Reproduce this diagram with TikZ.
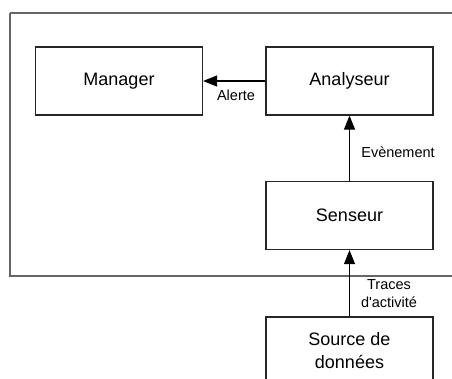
\documentclass[tikz,border=0pt]{standalone}
\usepackage{fontspec}
\setmainfont{Liberation Sans}
\usetikzlibrary{arrows.meta}
\begin{document}
\begin{tikzpicture}[x=1pt,y=-1pt,
  block/.style={draw=black!85, line width=1.2pt, minimum width=167pt, minimum height=68pt,
    inner sep=0pt, align=center, font=\fontsize{18}{23}\selectfont},
  flow/.style={line width=1.2pt, -{Triangle[length=14pt,width=11pt]}},
  tag/.style={inner sep=0pt, align=center, font=\fontsize{14.5}{18}\selectfont},
  frame/.style={draw=black!60, line width=1.2pt, dash pattern=on 0.35pt off 0.35pt}]
  \useasboundingbox (0,0) rectangle (452,378);
  \clip (0,0) rectangle (452,378);
  % system boundary
  \draw[frame] (10,13) rectangle (470,276);
  % components
  \node[block] (manager) at (119,81) {Manager};
  \node[block] (analyseur) at (349.5,81) {Analyseur};
  \node[block] (senseur) at (349.5,215.5) {Senseur};
  \node[block] (source) at (349.5,351) {Source de\\données};
  % data flow
  \draw[flow] (analyseur) -- (manager);
  \draw[flow] (senseur) -- (analyseur);
  \draw[flow] (source) -- (senseur);
  % labels
  \node[tag] (lalerte) at (236,95) {Alerte};
  \node[tag] (levent) at (398,152) {Evènement};
  \node[tag] (ltraces) at (389,294) {Traces\\d\textquotesingle activité};
\end{tikzpicture}
\end{document}
